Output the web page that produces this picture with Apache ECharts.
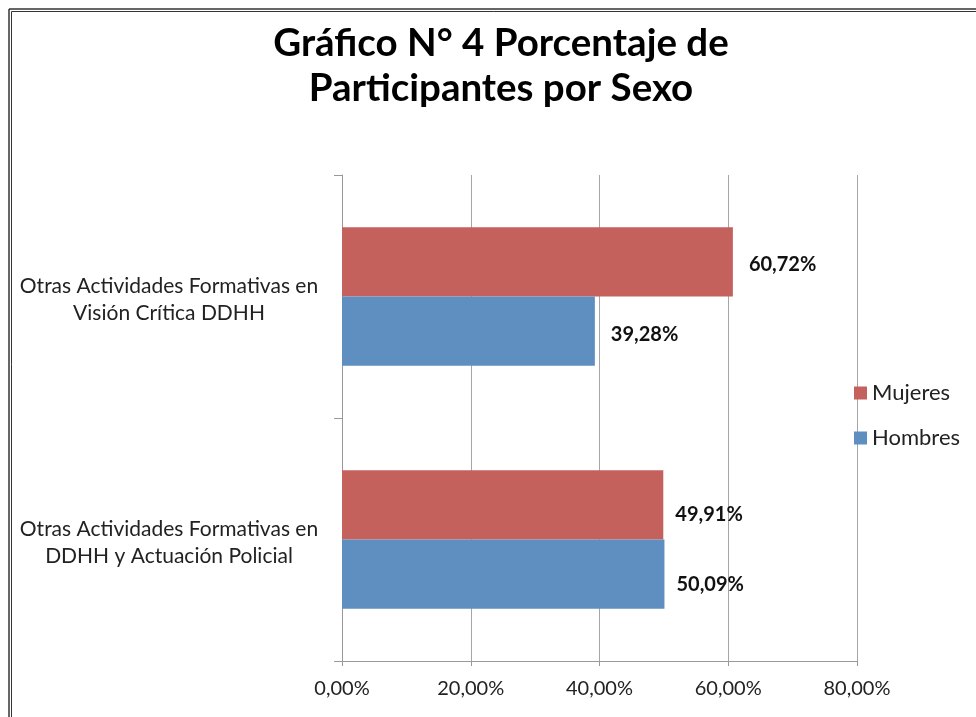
<!DOCTYPE html>
<html>
<head>
<meta charset="utf-8">
<script src="https://cdn.jsdelivr.net/npm/echarts@6/dist/echarts.min.js"></script>
<style>
html,body{margin:0;padding:0;background:#fff;}
#chart{width:976px;height:717px;}
</style>
</head>
<body>
<div id="chart"></div>
<script>
const titleText = "Gráfico N° 4 Porcentaje de\nParticipantes por Sexo";
const categories = [
  "Otras Actividades Formativas en\nDDHH y Actuación Policial",
  "Otras Actividades Formativas en\nVisión Crítica DDHH"
];
const mujeres = [49.91, 60.72];
const hombres = [50.09, 39.28];
const seriesNames = ["Mujeres", "Hombres"];
const xTicks = [0, 20, 40, 60, 80];

// label nudges per category (style only)
const labelNudge = [[-4, 10], [0, 3]];

const fmt = v => Number(v).toFixed(2).replace('.', ',') + '%';
const FONT = "Lato, 'Open Sans', sans-serif";
const withNudge = arr => arr.map((v, i) => ({value: v, label: {offset: labelNudge[i]}}));

const chart = echarts.init(document.getElementById('chart'));
chart.setOption({
  backgroundColor: '#fff',
  animation: false,
  title: {
    text: titleText,
    left: 496,
    textAlign: 'center',
    top: 16,
    textStyle: {fontFamily: FONT, fontWeight: 'bold', fontSize: 38.5, lineHeight: 45, color: '#000'}
  },
  graphic: [
    {type: 'line', shape: {x1: 9, y1: 9, x2: 976, y2: 9}, style: {stroke: '#333', lineWidth: 1.5}},
    {type: 'line', shape: {x1: 9, y1: 9, x2: 9, y2: 717}, style: {stroke: '#333', lineWidth: 1.5}},
    {type: 'line', shape: {x1: 11.5, y1: 11.5, x2: 976, y2: 11.5}, style: {stroke: '#333', lineWidth: 1}},
    {type: 'line', shape: {x1: 11.5, y1: 11.5, x2: 11.5, y2: 717}, style: {stroke: '#333', lineWidth: 1}}
  ],
  legend: {
    data: seriesNames,
    orient: 'vertical',
    left: 849,
    top: 377,
    itemWidth: 13,
    itemHeight: 13,
    itemGap: 23,
    icon: 'rect',
    textStyle: {fontFamily: FONT, fontSize: 22, color: '#222'}
  },
  grid: {left: 342, right: 119, top: 175, bottom: 56, containLabel: false},
  xAxis: {
    type: 'value',
    min: xTicks[0],
    max: xTicks[xTicks.length - 1],
    interval: 20,
    axisLine: {show: true, lineStyle: {color: '#999'}},
    axisTick: {show: true, length: 5, lineStyle: {color: '#999'}},
    splitLine: {show: true, lineStyle: {color: '#a6a6a6'}},
    axisLabel: {formatter: fmt, fontFamily: FONT, fontSize: 20, color: '#222', margin: 18}
  },
  yAxis: {
    type: 'category',
    data: categories,
    axisLine: {show: true, lineStyle: {color: '#999'}},
    axisTick: {show: true, length: 8, lineStyle: {color: '#999'}},
    axisLabel: {
      fontFamily: FONT, fontSize: 21, color: '#222', align: 'center', margin: 173,
      formatter: v => '{s| }\n' + v.split('\n').map(l => '{a|' + l + '}').join('\n'),
      rich: {
        s: {fontSize: 4, lineHeight: 7},
        a: {fontFamily: FONT, fontSize: 21, color: '#222', lineHeight: 27}
      }
    }
  },
  series: [
    {
      name: seriesNames[0], type: 'bar', data: withNudge(mujeres),
      itemStyle: {color: '#c5615d'},
      barCategoryGap: '43%', barGap: '0%',
      label: {show: true, position: 'right', distance: 16, formatter: p => fmt(p.value),
        fontFamily: FONT, fontWeight: 'bold', fontSize: 20, color: '#111'}
    },
    {
      name: seriesNames[1], type: 'bar', data: withNudge(hombres),
      itemStyle: {color: '#5f8fc1'},
      barCategoryGap: '43%', barGap: '0%',
      label: {show: true, position: 'right', distance: 16, formatter: p => fmt(p.value),
        fontFamily: FONT, fontWeight: 'bold', fontSize: 20, color: '#111'}
    }
  ]
});
</script>
</body>
</html>
